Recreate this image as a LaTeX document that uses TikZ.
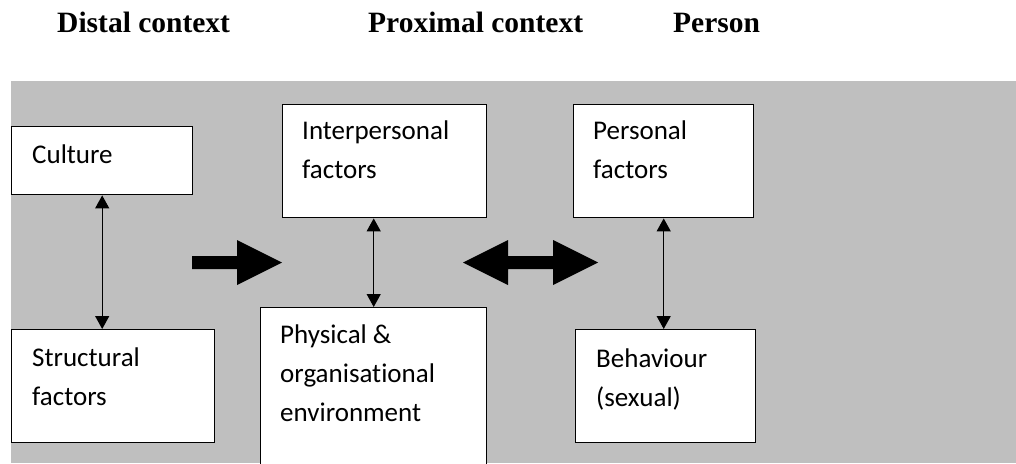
\documentclass[tikz,border=0pt]{standalone}
\usepackage{fontspec}
\setmainfont{Carlito}[Ligatures=NoCommon]
\newfontfamily\headfont{Liberation Serif}
\usetikzlibrary{arrows.meta}
\definecolor{bgc}{RGB}{191,191,191}

\begin{document}
\begin{tikzpicture}[x=1pt,y=-1pt,
  box/.style={draw=black, line width=1.4pt, fill=white, inner sep=0pt, anchor=north west},
  boxtext/.style={anchor=base west, inner sep=0pt, font=\fontsize{27}{39}\selectfont},
  head/.style={anchor=base west, inner sep=0pt, font=\headfont\bfseries\fontsize{29.5}{34}\selectfont},
  link/.style={line width=1.3pt, {Triangle[length=13pt,width=14pt]}-{Triangle[length=13pt,width=14pt]}},
  blockarrow/.style={fill=black}]
\useasboundingbox (0,0) rectangle (1016,463);
\clip (0,0) rectangle (1016,463);

% column headings
\node[head] (distal) at (57,32) {Distal context};
\node[head] (proximal) at (368,32) {Proximal context};
\node[head] (person) at (673,32) {Person};

% grey panel
\fill[bgc] (11,81) rectangle (1016,463);

% boxes
\node[box, minimum width=181pt, minimum height=68pt] (culture) at (11,126) {};
\node[box, minimum width=203pt, minimum height=113pt] (structural) at (11,329) {};
\node[box, minimum width=204pt, minimum height=113pt] (interpersonal) at (282,104) {};
\node[box, minimum width=226pt, minimum height=213pt] (physical) at (260,307) {};
\node[box, minimum width=180pt, minimum height=113pt] (personal) at (573,104) {};
\node[box, minimum width=180pt, minimum height=113pt] (behaviour) at (575,329) {};

% box labels
\node[boxtext] (culturetext) at (32,163) {Culture};
\node[boxtext] (structuraltext) at (32,366) {\parbox[t]{180pt}{Structural\\factors}};
\node[boxtext] (interpersonaltext) at (302,139) {\parbox[t]{180pt}{Interpersonal\\factors}};
\node[boxtext] (physicaltext) at (280,343) {\parbox[t]{200pt}{Physical \&\\organisational\\environment}};
\node[boxtext] (personaltext) at (593,139) {\parbox[t]{160pt}{Personal\\factors}};
\node[boxtext] (behaviourtext) at (596,367) {\parbox[t]{160pt}{Behaviour\\(sexual)}};

% two-way links within each column
\draw[link] (culture.south) -- (culture.south |- structural.north);
\draw[link] (physical.north |- interpersonal.south) -- (physical.north);
\draw[link] (personal.south) -- (personal.south |- behaviour.north);

% block arrows between columns
\fill[blockarrow] (192,256) -- (237,256) -- (237,240) -- (282,262.5) -- (237,285) -- (237,269) -- (192,269) -- cycle;
\fill[blockarrow] (463,262.5) -- (508,240) -- (508,256) -- (553,256) -- (553,240) -- (598,262.5)
  -- (553,285) -- (553,269) -- (508,269) -- (508,285) -- cycle;
\end{tikzpicture}
\end{document}
